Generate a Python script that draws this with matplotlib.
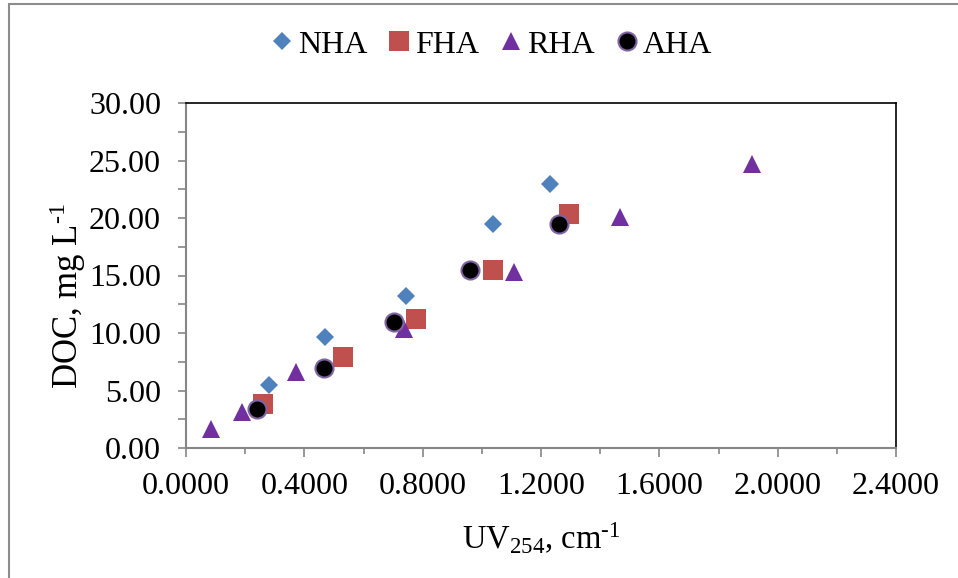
import matplotlib
matplotlib.use("Agg")
import matplotlib.pyplot as plt
from matplotlib.ticker import MultipleLocator, FormatStrFormatter
from matplotlib.patches import Rectangle

plt.rcParams['font.family'] = ['Liberation Serif', 'DejaVu Serif']
plt.rcParams['mathtext.fontset'] = 'custom'
plt.rcParams['mathtext.rm'] = 'Liberation Serif'
plt.rcParams['mathtext.it'] = 'Liberation Serif:italic'

# Data
nha_x = [0.281, 0.470, 0.745, 1.039, 1.229]
nha_y = [5.45, 9.65, 13.25, 19.5, 23.0]
fha_x = [0.261, 0.531, 0.779, 1.039, 1.293]
fha_y = [3.8, 7.9, 11.2, 15.5, 20.35]
rha_x = [0.085, 0.188, 0.373, 0.736, 1.110, 1.467, 1.912]
rha_y = [1.62, 3.16, 6.64, 10.35, 15.28, 20.1, 24.7]
aha_x = [0.240, 0.466, 0.704, 0.959, 1.262]
aha_y = [3.36, 6.93, 10.98, 15.5, 19.5]

FS = 23

W, H = 958, 578
fig = plt.figure(figsize=(W/100, H/100), dpi=100)
ax = fig.add_axes([186/W, 1-448/H, 710/W, 345/H])

ax.plot(nha_x, nha_y, 'D', color='#4F81BD', markersize=9, markeredgewidth=0, label='NHA', zorder=3)
ax.plot(fha_x, fha_y, 's', color='#C0504D', markersize=14, markeredgewidth=0, label='FHA', zorder=3)
ax.plot(rha_x, rha_y, '^', color='#7030A0', markersize=13, markeredgewidth=0, label='RHA', zorder=3)
ax.plot(aha_x, aha_y, 'o', markerfacecolor='black', markeredgecolor='#8064A2', markersize=13,
        markeredgewidth=1.5, linestyle='none', label='AHA', zorder=4)

ax.set_xlim(0, 2.4)
ax.set_ylim(0, 30)
ax.xaxis.set_major_locator(MultipleLocator(0.4))
ax.xaxis.set_minor_locator(MultipleLocator(0.2))
ax.yaxis.set_major_locator(MultipleLocator(5))
ax.yaxis.set_minor_locator(MultipleLocator(2.5))
ax.xaxis.set_major_formatter(FormatStrFormatter('%.4f'))
ax.yaxis.set_major_formatter(FormatStrFormatter('%.2f'))

gray = '#868686'
for s in ['left', 'bottom']:
    ax.spines[s].set_color(gray)
    ax.spines[s].set_linewidth(1.5)
for s in ['top', 'right']:
    ax.spines[s].set_color('black')
    ax.spines[s].set_linewidth(1.2)

ax.tick_params(which='both', direction='out', color=gray, width=1.2, labelsize=FS, labelcolor='black')
ax.tick_params(axis='y', which='both', length=6, pad=12)
ax.tick_params(axis='x', which='major', length=6.5, pad=11)
ax.tick_params(axis='x', which='minor', length=4)

ax.set_ylabel(r'DOC, mg L$^{\text{-1}}$', fontsize=25)
ax.yaxis.set_label_coords(-0.138, 0.44)
ax.set_xlabel(r'UV$_{254}$, cm$^{\text{-1}}$', fontsize=23.5, va='center')
ax.xaxis.set_label_coords(0.5, -0.262)

fig.legend(loc='center', bbox_to_anchor=(490/W, 1-45/H), ncol=4, frameon=False,
           fontsize=FS, handletextpad=0.05, columnspacing=0.55, handlelength=0.9,
           markerscale=1.0)

fig.patches.append(Rectangle((9/W, -0.1), 1.2, 1 - 4/H + 0.1, transform=fig.transFigure,
                             fill=False, edgecolor='#8C8C8C', linewidth=1.5))

fig.savefig('out.png', dpi=100)
